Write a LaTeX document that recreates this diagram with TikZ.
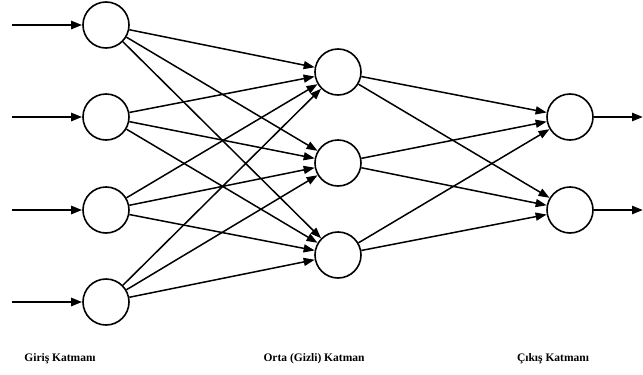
\documentclass[tikz,border=0pt]{standalone}
\usepackage{fontspec}
\setmainfont{Liberation Serif}
\usetikzlibrary{arrows.meta}
\begin{document}
\begin{tikzpicture}[x=1pt,y=-1pt,
  neuron/.style={circle,draw,line width=1.6pt,minimum size=46pt,inner sep=0pt},
  conn/.style={line width=1.5pt,-{Triangle[length=11pt,width=8pt]}},
  io/.style={line width=2.4pt,-{Triangle[length=11pt,width=8pt]}},
  lbl/.style={font=\fontsize{11.5}{13}\selectfont\bfseries}]
\useasboundingbox (0,0) rectangle (643,375);
\node[neuron] (i1) at (106,25) {};
\node[neuron] (i2) at (106,117) {};
\node[neuron] (i3) at (106,210) {};
\node[neuron] (i4) at (106,302) {};
\node[neuron] (h1) at (338,72) {};
\node[neuron] (h2) at (338,163) {};
\node[neuron] (h3) at (338,255) {};
\node[neuron] (o1) at (570,117) {};
\node[neuron] (o2) at (570,210) {};
\foreach \i/\y in {1/25,2/117,3/210,4/302}{
  \coordinate (in\i) at (12,\y);
  \draw[io] (in\i) -- (i\i);
}
\foreach \i in {1,...,4}{
  \foreach \h in {1,2,3}{
    \draw[conn] (i\i) -- (h\h);
  }
}
\foreach \h in {1,2,3}{
  \foreach \o in {1,2}{
    \draw[conn] (h\h) -- (o\o);
  }
}
\coordinate (out1) at (643,117);
\coordinate (out2) at (643,210);
\draw[io] (o1) -- (out1);
\draw[io] (o2) -- (out2);
\node[lbl] (l1) at (60,359) {Giriş Katmanı};
\node[lbl] (l2) at (314,359) {Orta (Gizli) Katman};
\node[lbl] (l3) at (553,359) {Çıkış Katmanı};
\end{tikzpicture}
\end{document}
